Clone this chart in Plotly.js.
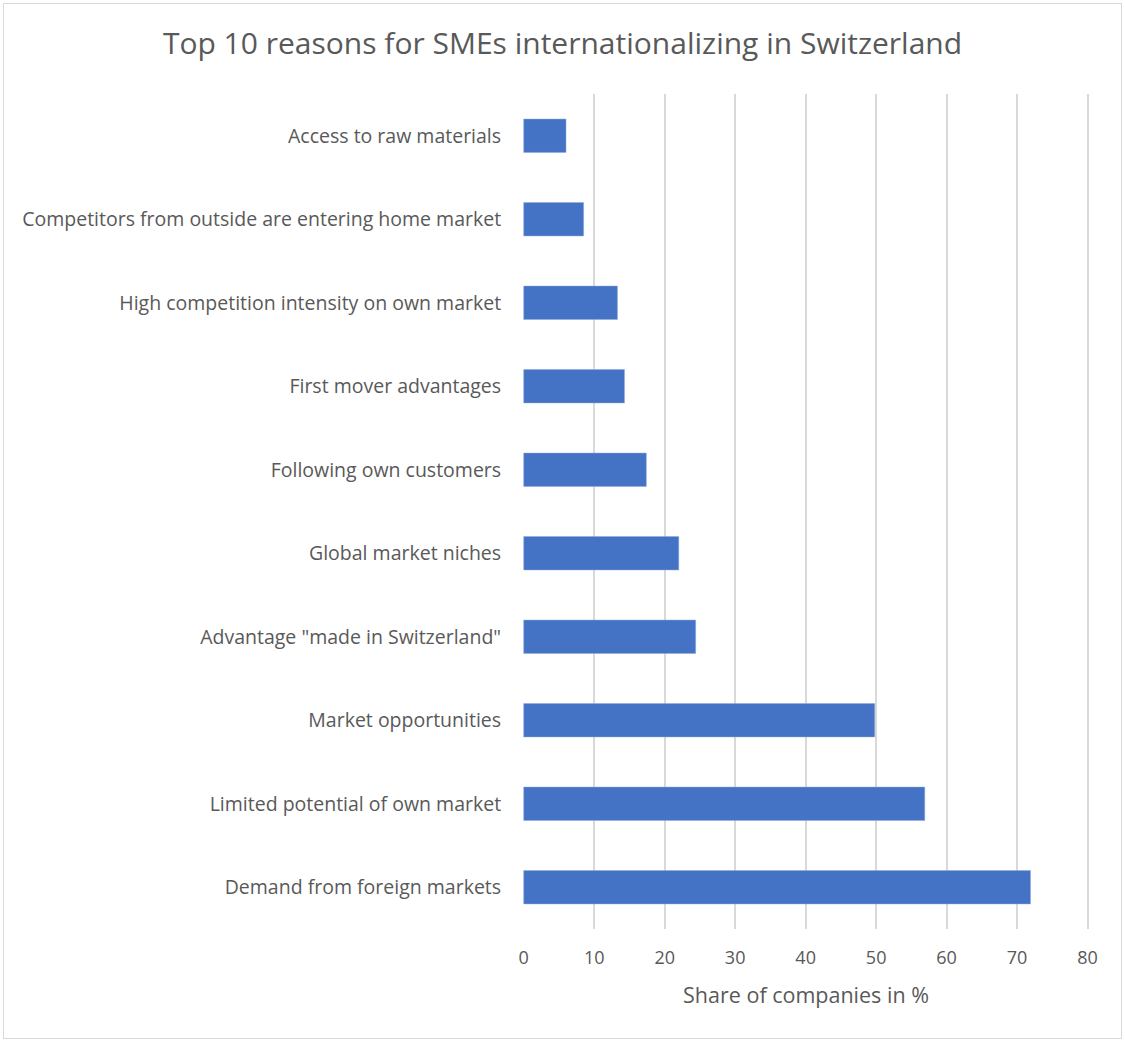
<!DOCTYPE html>
<html>
<head>
<meta charset="utf-8">
<script src="https://cdn.plot.ly/plotly-3.0.1.min.js"></script>
<style>
html,body{margin:0;padding:0;background:#fff;}
#wrap{position:relative;width:1125px;height:1042px;}
#chart{width:1125px;height:1042px;}
#frame{position:absolute;left:3px;top:3px;width:1117px;height:1034px;border:1px solid #d9d9d9;pointer-events:none;}
</style>
</head>
<body>
<div id="wrap"><div id="chart"></div><div id="frame"></div></div>
<script>
const categories = [
  "Access to raw materials",
  "Competitors from outside are entering home market",
  "High competition intensity on own market",
  "First mover advantages",
  "Following own customers",
  "Global market niches",
  "Advantage \"made in Switzerland\"",
  "Market opportunities",
  "Limited potential of own market",
  "Demand from foreign markets"
];
const shares = [6, 8.5, 13.3, 14.3, 17.4, 22, 24.4, 49.8, 56.9, 71.9];
const xTicks = [0, 10, 20, 30, 40, 50, 60, 70, 80];

const font = "'Open Sans', 'Noto Sans', sans-serif";
const grey = "#595959";

Plotly.newPlot("chart", [{
  type: "bar",
  orientation: "h",
  y: categories,
  x: shares,
  width: 0.4,
  marker: {color: "#4472c4", line: {color: "#8faadc", width: 0.5}},
  hoverinfo: "x+y"
}], {
  width: 1125, height: 1042,
  paper_bgcolor: "#fff", plot_bgcolor: "#fff",
  margin: {l: 523, r: 36, t: 94, b: 113},
  showlegend: false,
  title: {
    text: "Top 10 reasons for SMEs internationalizing in Switzerland",
    font: {family: font, size: 30, color: grey},
    x: 0.5, xref: "container", xanchor: "center",
    y: 1 - 43/1042, yref: "container", yanchor: "middle"
  },
  xaxis: {
    range: [-0.1, 80.2],
    tickvals: xTicks,
    ticktext: xTicks.map(String),
    showgrid: true, gridcolor: "#d9d9d9", gridwidth: 1.5,
    zeroline: false, showline: false,
    ticks: "outside", ticklen: 12, tickcolor: "rgba(0,0,0,0)",
    tickfont: {family: font, size: 18, color: grey},
    title: {text: "Share of companies in %", font: {family: font, size: 21.5, color: grey}, standoff: 20},
    fixedrange: true
  },
  yaxis: {
    categoryorder: "array",
    categoryarray: categories,
    autorange: "reversed",
    showgrid: false, zeroline: false, showline: false,
    ticks: "outside", ticklen: 17, tickcolor: "rgba(0,0,0,0)",
    tickfont: {family: font, size: 19.5, color: grey},
    fixedrange: true
  },
  bargap: 0.6
}, {displayModeBar: false});
</script>
</body>
</html>
